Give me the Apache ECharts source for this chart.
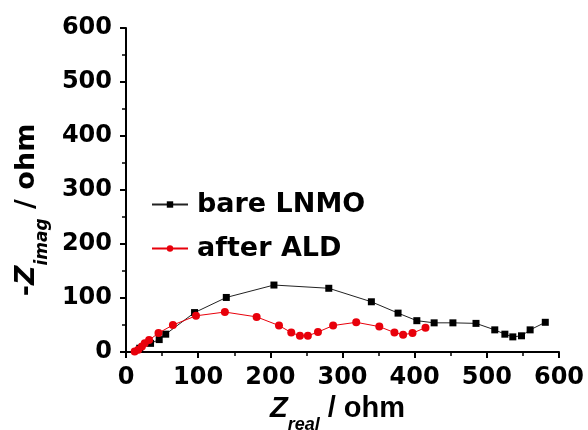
<!DOCTYPE html>
<html>
<head>
<meta charset="utf-8">
<script src="https://cdn.jsdelivr.net/npm/echarts@6/dist/echarts.min.js"></script>
<style>
  html, body { margin: 0; padding: 0; background: #fff; }
  #chart { width: 588px; height: 430px; }
</style>
</head>
<body>
<div id="chart"></div>
<script>
// Nyquist impedance data (ohm)
const bareReal = [19, 34, 46, 55, 95, 139, 205, 281, 340, 377, 403, 427, 453, 485, 511, 525, 536, 548, 560, 581];
const bareImag = [7, 16, 23, 33, 73, 101, 124, 118, 93, 72, 58, 54, 54, 53, 41, 33, 28, 30, 41, 55];
const aldReal = [12, 17, 22, 26, 32, 45, 65, 97, 137, 181, 212, 229, 241, 252, 266, 287, 319, 351, 372, 384, 397, 415];
const aldImag = [1, 4, 10, 16, 22, 35, 50, 67, 74, 65, 49, 36, 30, 30, 37, 49, 55, 47, 36, 32, 35, 45];
const axisTicks = [0, 100, 200, 300, 400, 500, 600];
const seriesNames = ['bare LNMO', 'after ALD'];

const FONT = 'DejaVu Sans';
const NAME_FONT = 'Liberation Sans';
const pairs = (xs, ys) => xs.map((x, i) => [x, ys[i]]);

const axisCommon = {
  type: 'value',
  min: axisTicks[0],
  max: axisTicks[axisTicks.length - 1],
  interval: axisTicks[1] - axisTicks[0],
  splitLine: { show: false },
  axisLine: { show: true, onZero: false, lineStyle: { color: '#000', width: 2 } },
  axisTick: { show: true, inside: false, length: 6, lineStyle: { color: '#000', width: 2 } },
  minorTick: { show: true, splitNumber: 2, length: 4, lineStyle: { color: '#000', width: 1.5 } },
  axisLabel: { color: '#000', fontFamily: FONT, fontWeight: 'bold', fontSize: 24, margin: 14 }
};

const chart = echarts.init(document.getElementById('chart'), null, { renderer: 'canvas' });
chart.setOption({
  animation: false,
  backgroundColor: '#fff',
  grid: { left: 126, right: 29, top: 28, bottom: 78, outerBoundsMode: 'none' },
  legend: {
    orient: 'vertical',
    left: 146,
    top: 186,
    itemWidth: 36,
    itemHeight: 8,
    itemGap: 17,
    data: seriesNames,
    textStyle: { color: '#000', fontFamily: FONT, fontWeight: 'bold', fontSize: 27, padding: [0, 0, 0, 4] }
  },
  xAxis: Object.assign({}, axisCommon, {
    name: '{z|Z}{sub|real}{n| / ohm}',
    nameLocation: 'middle',
    nameGap: 30,
    nameTextStyle: {
      padding: [0, 10, 0, 0],
      rich: {
        z: { fontFamily: NAME_FONT, fontSize: 29, fontWeight: 'bold', fontStyle: 'italic', color: '#000' },
        sub: { fontFamily: NAME_FONT, fontSize: 18, fontWeight: 'bold', fontStyle: 'italic', color: '#000', padding: [32, 0, 0, 0] },
        n: { fontFamily: NAME_FONT, fontSize: 29, fontWeight: 'bold', color: '#000' }
      }
    }
  }),
  yAxis: Object.assign({}, axisCommon, {
    name: '{n|-}{z|Z}{sub|imag}{n| / ohm}',
    nameLocation: 'middle',
    nameGap: 73,
    nameRotate: 90,
    nameTextStyle: {
      padding: [0, 40, 0, 0],
      rich: {
        z: { fontFamily: FONT, fontSize: 27, fontWeight: 'bold', fontStyle: 'italic', color: '#000' },
        sub: { fontFamily: FONT, fontSize: 17, fontWeight: 'bold', fontStyle: 'italic', color: '#000', padding: [32, 0, 0, 0] },
        n: { fontFamily: FONT, fontSize: 27, fontWeight: 'bold', color: '#000' }
      }
    }
  }),
  series: [
    {
      name: seriesNames[0],
      type: 'line',
      data: pairs(bareReal, bareImag),
      symbol: 'rect',
      symbolSize: 7,
      itemStyle: { color: '#000' },
      lineStyle: { color: '#222', width: 1 },
      z: 2
    },
    {
      name: seriesNames[1],
      type: 'line',
      data: pairs(aldReal, aldImag),
      symbol: 'circle',
      symbolSize: 8,
      itemStyle: { color: '#e8000b' },
      lineStyle: { color: '#e8000b', width: 1 },
      z: 3
    }
  ]
});
</script>
</body>
</html>
